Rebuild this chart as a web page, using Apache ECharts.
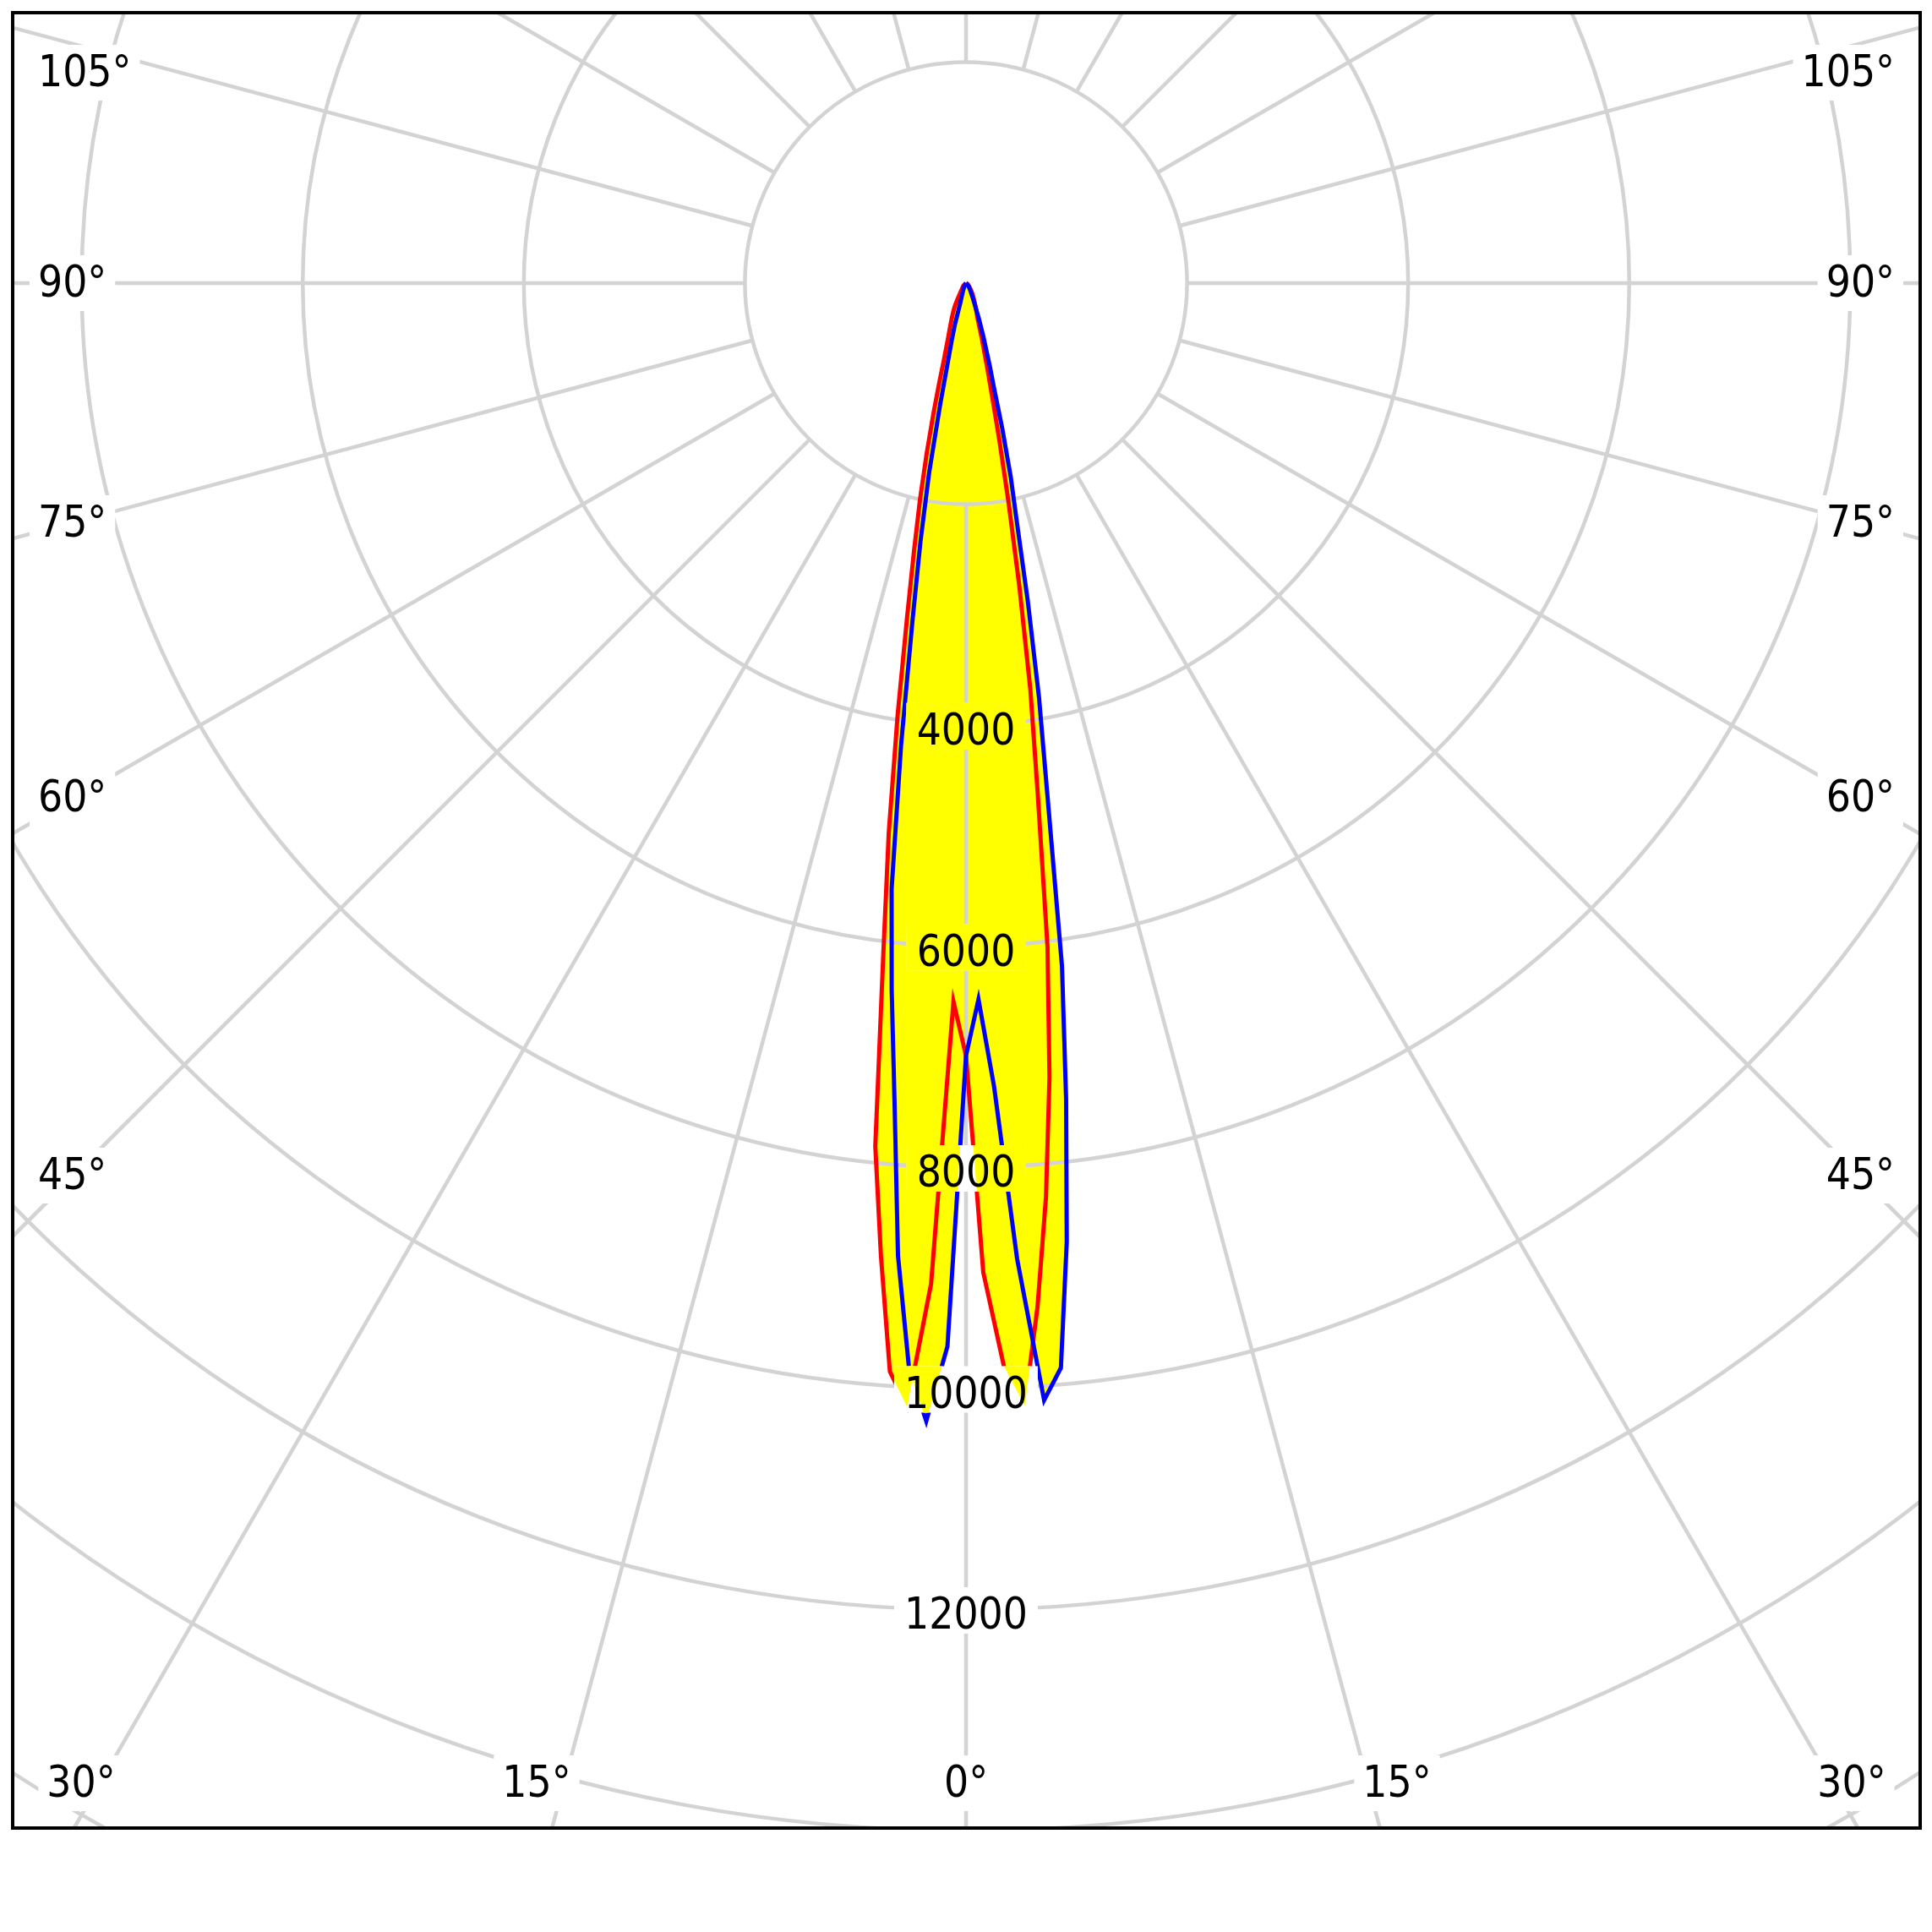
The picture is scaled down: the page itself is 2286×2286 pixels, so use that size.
<!DOCTYPE html>
<html><head><meta charset="utf-8">
<script src="https://cdn.jsdelivr.net/npm/echarts@6/dist/echarts.min.js"></script>
<style>html,body{margin:0;padding:0;background:#fff}#c{width:2286px;height:2286px}</style>
</head><body><div id="c"></div>
<script>
// ---------------- data ----------------
const angles = [-90,-60,-45,-35,-30,-28,-26,-25,-24,-22,-20,-18,-16,-15,-14,-13,-12,-11,-10,-9,-8,-7,-6,-5,-4,-3,-2,-1,
                0,1,2,3,4,5,6,7,8,9,10,11,12,13,14,15,16,18,20,22,25,30,35,45,60,90];
const redValues = [0,15,35,65,110,160,225,255,285,345,420,525,730,940,1220,1580,2000,2460,3070,3950,5020,6150,7850,8830,9870,10180,9060,6500,
                   6990,8950,9800,10170,9280,8300,7225,6050,4660,3720,2770,2010,1450,1050,810,630,520,345,280,230,180,120,80,40,15,0];
const blueValues = [0,5,10,20,30,35,42,46,50,62,85,120,190,390,530,720,1130,1750,2370,3100,4220,5520,6430,7420,8820,9835,10300,9620,
                    6990,6480,7270,8840,10130,9850,8720,7430,6240,4730,3800,2930,2220,1800,1360,970,780,510,340,220,140,80,50,25,10,0];
const ringLabels = [4000, 6000, 8000, 10000, 12000];
const leftAngleLabels = ['105°','90°','75°','60°','45°'];
const rightAngleLabels = ['105°','90°','75°','60°','45°'];
const bottomAngleLabels = ['30°','15°','0°','15°','30°'];

// ---------------- layout ----------------
const CX = 1143, CY = 335, PX_PER_CD = 0.1308, RMAX = 18000;
const R_OUT = RMAX * PX_PER_CD, R_IN = 2000 * PX_PER_CD;
const FONT_SIZE = 51;
const FONT_FAMILY = '"DejaVu Sans Condensed", "DejaVu Sans", sans-serif';
const FONT = FONT_SIZE + 'px ' + FONT_FAMILY;
const GRID = '#d3d3d3';
const GRID_W = 4.5, CURVE_W = 5;
const FRAME = {x: 15, y: 15, w: 2257, h: 2148};
const SIDE_Y = [84, 333, 617, 942, 1389];
const BOTTOM_X = [96, 635, 1143, 1653, 2191];
const BOTTOM_Y = 2108;
const LEFT_BOX_X = 35, RIGHT_BOX_X = 2252;
const TEXT_DY = 4.5;

const mctx = document.createElement('canvas').getContext('2d');
mctx.font = FONT;
const tw = t => mctx.measureText(t).width;

const redData = angles.map((a, i) => [redValues[i], a]);
const blueData = angles.map((a, i) => [blueValues[i], a]);

function ringLabel(params, api) {
  const v = api.value(0);
  const p = api.coord([v, 0]);
  const text = String(v);
  const bw = tw(text) + 24, bh = 55;
  const bx = p[0] - bw / 2, by = p[1] + 1 - bh / 2;
  const pts = vals => angles.map((a, i) => api.coord([vals[i], a]));
  return {
    type: 'group',
    children: [
      {type: 'rect', z2: 0, shape: {x: bx, y: by, width: bw, height: bh}, style: {fill: '#ffffff'}},
      {type: 'group', clipPath: {type: 'rect', shape: {x: bx, y: by, width: bw, height: bh}},
        children: [
          {type: 'polygon', z2: 1, shape: {points: pts(redValues)}, style: {fill: '#ffff00'}},
          {type: 'polygon', z2: 1, shape: {points: pts(blueValues)}, style: {fill: '#ffff00'}}
        ]},
      {type: 'text', z2: 2, style: {text: text, x: p[0], y: p[1] + 5 + TEXT_DY, fill: '#000', font: FONT,
        align: 'center', verticalAlign: 'middle'}}
    ]
  };
}

const graphics = [];
function addLabel(text, x, y, align) {
  const w = tw(text) + 20, h = 66;
  let bx;
  if (align === 'left') bx = x; else if (align === 'right') bx = x - w; else bx = x - w / 2;
  graphics.push({type: 'rect', z: 10, shape: {x: bx, y: y + 2 - h / 2, width: w, height: h}, style: {fill: '#fff'}});
  graphics.push({type: 'text', z: 11, style: {text: text, x: bx + w / 2, y: y + TEXT_DY, fill: '#000', font: FONT,
    align: 'center', verticalAlign: 'middle'}});
}
leftAngleLabels.forEach((t, i) => addLabel(t, LEFT_BOX_X, SIDE_Y[i], 'left'));
rightAngleLabels.forEach((t, i) => addLabel(t, RIGHT_BOX_X, SIDE_Y[i], 'right'));
bottomAngleLabels.forEach((t, i) => addLabel(t, BOTTOM_X[i], BOTTOM_Y, 'center'));
// white outside frame (clip) + frame
graphics.push({type: 'rect', z: 20, shape: {x: 0, y: 0, width: 2286, height: FRAME.y - 2}, style: {fill: '#fff'}});
graphics.push({type: 'rect', z: 20, shape: {x: 0, y: 0, width: FRAME.x - 2, height: 2286}, style: {fill: '#fff'}});
graphics.push({type: 'rect', z: 20, shape: {x: FRAME.x + FRAME.w + 2, y: 0, width: 100, height: 2286}, style: {fill: '#fff'}});
graphics.push({type: 'rect', z: 20, shape: {x: 0, y: FRAME.y + FRAME.h + 2, width: 2286, height: 200}, style: {fill: '#fff'}});
graphics.push({type: 'rect', z: 21, shape: {x: FRAME.x, y: FRAME.y, width: FRAME.w, height: FRAME.h},
  style: {fill: 'none', stroke: '#000', lineWidth: 4}});

const chart = echarts.init(document.getElementById('c'), null, {renderer: 'canvas', width: 2286, height: 2286});
chart.setOption({
  animation: false,
  backgroundColor: '#ffffff',
  polar: [{center: [CX, CY], radius: [R_IN, R_OUT]}, {center: [CX, CY], radius: [0, R_OUT]}],
  angleAxis: [
    {polarIndex: 0, type: 'value', min: -180, max: 180, interval: 15, startAngle: 90, clockwise: false, z: 2,
      axisLine: {show: false}, axisTick: {show: false}, axisLabel: {show: false},
      splitLine: {show: true, lineStyle: {color: GRID, width: GRID_W}}},
    {polarIndex: 1, type: 'value', min: -180, max: 180, interval: 15, startAngle: 90, clockwise: false, z: 2,
      axisLine: {show: false}, axisTick: {show: false}, axisLabel: {show: false}, splitLine: {show: false}}
  ],
  radiusAxis: [
    {polarIndex: 0, type: 'value', min: 2000, max: RMAX, show: false,
      axisLine: {show: false}, axisTick: {show: false}, axisLabel: {show: false}, splitLine: {show: false}},
    {polarIndex: 1, type: 'value', min: 0, max: RMAX, interval: 2000, z: 2,
      axisLine: {show: false}, axisTick: {show: false}, axisLabel: {show: false},
      splitLine: {show: true, lineStyle: {color: GRID, width: GRID_W}}}
  ],
  series: [
    {type: 'line', coordinateSystem: 'polar', polarIndex: 1, data: redData, z: 1, symbol: 'none', silent: true,
      lineStyle: {opacity: 0, width: 0}, areaStyle: {color: '#ffff00', opacity: 1}},
    {type: 'line', coordinateSystem: 'polar', polarIndex: 1, data: blueData, z: 1, symbol: 'none', silent: true,
      lineStyle: {opacity: 0, width: 0}, areaStyle: {color: '#ffff00', opacity: 1}},
    {type: 'line', coordinateSystem: 'polar', polarIndex: 1, data: redData, z: 3, symbol: 'none', silent: true,
      lineStyle: {color: '#ff0000', width: CURVE_W, join: 'miter', miterLimit: 10}},
    {type: 'line', coordinateSystem: 'polar', polarIndex: 1, data: blueData, z: 3, symbol: 'none', silent: true,
      lineStyle: {color: '#0000ff', width: CURVE_W, join: 'miter', miterLimit: 10}},
    {type: 'custom', coordinateSystem: 'polar', polarIndex: 1, data: ringLabels.map(v => [v, 0]), z: 4,
      silent: true, renderItem: ringLabel}
  ],
  graphic: {elements: graphics}
});
</script>
</body></html>
